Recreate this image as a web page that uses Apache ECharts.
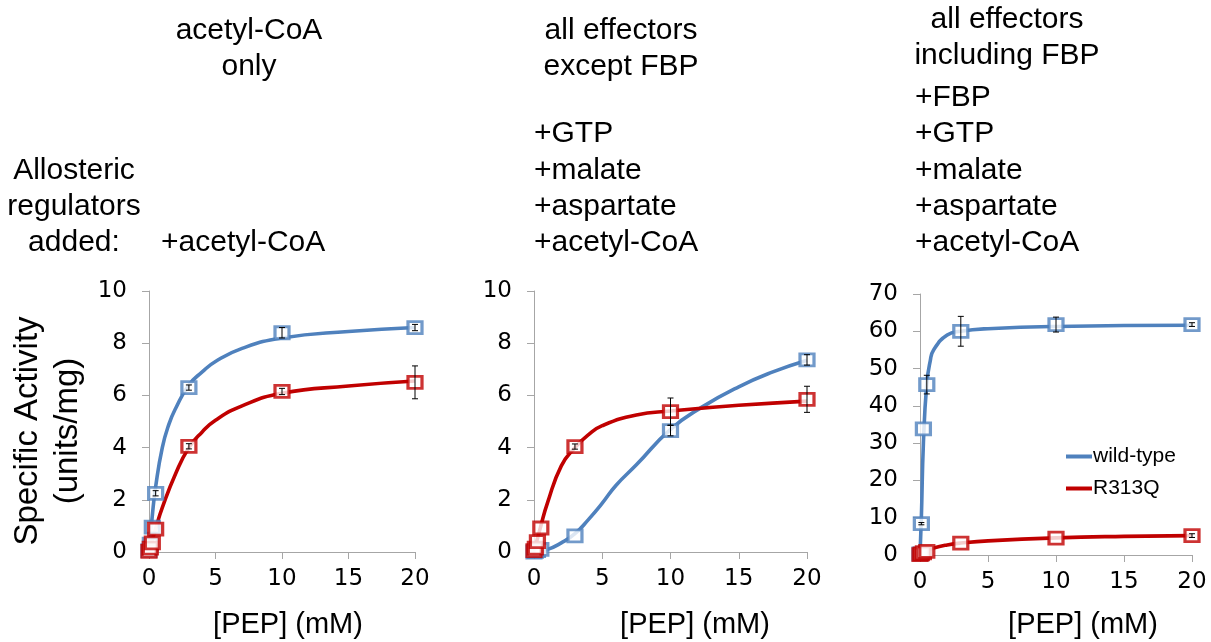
<!DOCTYPE html>
<html><head><meta charset="utf-8">
<script src="https://cdn.jsdelivr.net/npm/echarts@6/dist/echarts.min.js"></script>
<style>html,body{margin:0;padding:0;background:#fff}#c{width:1211px;height:642px}</style>
</head><body><div id="c"></div>
<script>
// ---- data ----
const seriesNames = ['wild-type', 'R313Q'];
const xAxisTitle = '[PEP] (mM)';
const yAxisTitle = ['Specific Activity', '(units/mg)'];
const panelHeaders = [['acetyl-CoA', 'only'], ['all effectors', 'except FBP'], ['all effectors', 'including FBP']];
const panelEffectors = [['+acetyl-CoA'], ['+GTP', '+malate', '+aspartate', '+acetyl-CoA'], ['+FBP', '+GTP', '+malate', '+aspartate', '+acetyl-CoA']];
const rowLabel = ['Allosteric', 'regulators', 'added:'];
const yMaxes = [10, 10, 70];
const yIntervals = [2, 2, 10];

// measured points [PEP, activity]
const wt1 = [[0, 0.05], [0.1, 0.3], [0.25, 0.95], [0.5, 2.25], [3, 6.3], [10, 8.4], [20, 8.6]];
const mut1 = [[0, 0.02], [0.1, 0.15], [0.25, 0.35], [0.5, 0.88], [3, 4.05], [10, 6.15], [20, 6.5]];
const wt2 = [[0, 0], [0.1, 0.02], [0.25, 0.05], [0.5, 0.1], [3, 0.62], [10, 4.65], [20, 7.36]];
const mut2 = [[0, 0.05], [0.1, 0.15], [0.25, 0.4], [0.5, 0.92], [3, 4.04], [10, 5.38], [20, 5.85]];
const wt3 = [[0, 0.3], [0.1, 8.4], [0.25, 33.8], [0.5, 45.7], [3, 60], [10, 61.8], [20, 61.8]];
const mut3 = [[0, 0.1], [0.1, 0.3], [0.25, 0.6], [0.5, 1.0], [3, 3.2], [10, 4.55], [20, 5.2]];

// error bars [PEP, activity, +/-]
const wtErr1 = [[0.5, 2.25, 0.1], [3, 6.3, 0.1], [10, 8.4, 0.2], [20, 8.6, 0.12]];
const mutErr1 = [[3, 4.05, 0.1], [10, 6.15, 0.12], [20, 6.5, 0.63]];
const wtErr2 = [[10, 4.65, 0.2], [20, 7.36, 0.2]];
const mutErr2 = [[3, 4.04, 0.1], [10, 5.38, 0.52], [20, 5.85, 0.5]];
const wtErr3 = [[0.1, 8.4, 0.3], [0.5, 45.7, 2.5], [3, 60, 4], [10, 61.8, 2], [20, 61.8, 0.5]];
const mutErr3 = [[20, 5.2, 0.5]];

// fitted curves
const wtFit1 = [[0, 0], [0.25, 1.4], [0.5, 2.5], [1, 4.0], [1.5, 4.9], [2, 5.5], [3, 6.4], [4, 6.9], [5, 7.3], [7, 7.8], [10, 8.2], [15, 8.45], [20, 8.6]];
const mutFit1 = [[0, 0], [0.25, 0.45], [0.5, 0.9], [1, 1.7], [2, 3.0], [3, 4.0], [4, 4.6], [5, 5.05], [7, 5.6], [10, 6.08], [15, 6.36], [20, 6.55]];
const wtFit2 = [[0, 0], [1, 0.1], [2, 0.35], [3, 0.7], [4, 1.25], [5, 1.87], [6, 2.55], [7.5, 3.34], [10, 4.7], [12.3, 5.55], [15, 6.33], [17.5, 6.9], [20, 7.35]];
const mutFit2 = [[0, 0], [0.5, 1.0], [1, 1.9], [2, 3.3], [3, 4.0], [4, 4.5], [5, 4.84], [7.5, 5.25], [10, 5.4], [15, 5.62], [20, 5.78]];
const wtFit3 = [[0, 0], [0.1, 10], [0.25, 30], [0.5, 46], [0.75, 52], [1, 55], [2, 59], [3, 60], [5, 60.7], [10, 61.3], [20, 61.6]];
const mutFit3 = [[0, 0], [0.25, 0.7], [0.5, 1.2], [1, 1.9], [2, 2.7], [3, 3.2], [5, 3.8], [10, 4.6], [15, 5.0], [20, 5.2]];

const wtPts = [wt1, wt2, wt3], mutPts = [mut1, mut2, mut3];
const wtErr = [wtErr1, wtErr2, wtErr3], mutErr = [mutErr1, mutErr2, mutErr3];
const wtFit = [wtFit1, wtFit2, wtFit3], mutFit = [mutFit1, mutFit2, mutFit3];

// ---- layout / style ----
const BLUE = '#4f81bd', RED = '#c00000';
const FONT = 'Liberation Sans, Arial, sans-serif';
const TICKFONT = 'DejaVu Sans, sans-serif';
const grids = [
  { left: 149, top: 291, width: 266, height: 261 },
  { left: 534, top: 291, width: 273, height: 261 },
  { left: 920, top: 294, width: 272, height: 261 }
];

const chart = echarts.init(document.getElementById('c'), null, { renderer: 'canvas' });

const axisCommon = {
  axisLine: { show: true, lineStyle: { color: '#a6a6a6', width: 1 } },
  axisTick: { show: true, length: 7, lineStyle: { color: '#a6a6a6' } },
  splitLine: { show: false }
};

const xAxes = grids.map((g, i) => Object.assign({}, axisCommon, {
  gridIndex: i, type: 'value', min: 0, max: 20, interval: 5,
  axisLabel: { color: '#000', fontSize: 23, fontFamily: TICKFONT, margin: 16 }
}));
const yAxes = grids.map((g, i) => Object.assign({}, axisCommon, {
  gridIndex: i, type: 'value', min: 0, max: yMaxes[i], interval: yIntervals[i],
  axisLabel: { color: '#000', fontSize: 23, fontFamily: TICKFONT, margin: 22 }
}));

function errSeries(data, i) {
  return {
    type: 'custom', xAxisIndex: i, yAxisIndex: i, z: 10, silent: true,
    data: data,
    renderItem: function (params, api) {
      const x = api.value(0), y = api.value(1), e = api.value(2);
      const top = api.coord([x, y + e]);
      const bot = api.coord([x, y - e]);
      const cw = 3;
      const st = { stroke: '#000', lineWidth: 1 };
      return {
        type: 'group',
        children: [
          { type: 'line', shape: { x1: top[0], y1: top[1], x2: bot[0], y2: bot[1] }, style: st },
          { type: 'line', shape: { x1: top[0] - cw, y1: top[1], x2: top[0] + cw, y2: top[1] }, style: st },
          { type: 'line', shape: { x1: bot[0] - cw, y1: bot[1], x2: bot[0] + cw, y2: bot[1] }, style: st }
        ]
      };
    }
  };
}

const series = [];
for (let i = 0; i < 3; i++) {
  series.push({
    name: seriesNames[0], type: 'line', xAxisIndex: i, yAxisIndex: i, data: wtFit[i],
    smooth: 0.5, showSymbol: false, symbol: 'none',
    lineStyle: { color: BLUE, width: 3.6 }, itemStyle: { color: BLUE }, z: 2
  });
  series.push({
    name: seriesNames[1], type: 'line', xAxisIndex: i, yAxisIndex: i, data: mutFit[i],
    smooth: 0.5, showSymbol: false, symbol: 'none',
    lineStyle: { color: RED, width: 3.6 }, itemStyle: { color: RED }, z: 3
  });
}
for (let i = 0; i < 3; i++) {
  series.push({
    type: 'scatter', xAxisIndex: i, yAxisIndex: i, data: wtPts[i], symbol: 'rect', symbolSize: [14, 12],
    itemStyle: { color: '#fff', borderColor: BLUE, borderWidth: 3 }, z: 4, silent: true
  });
  series.push({
    type: 'scatter', xAxisIndex: i, yAxisIndex: i, data: mutPts[i], symbol: 'rect', symbolSize: [14, 12],
    itemStyle: { color: '#fff', borderColor: RED, borderWidth: 3 }, z: 5, silent: true
  });
  series.push(errSeries(wtErr[i], i));
  series.push(errSeries(mutErr[i], i));
}

const TXT = { fill: '#000', fontFamily: FONT };
const graphics = [];
function addText(text, x, y, align, size) {
  graphics.push({ type: 'text', x: x, y: y, silent: true,
    style: Object.assign({}, TXT, { text: text, align: align, verticalAlign: 'middle', fontSize: size || 30 }) });
}
// headers
addText(panelHeaders[0][0], 249, 31, 'center'); addText(panelHeaders[0][1], 249, 67, 'center');
addText(panelHeaders[1][0], 621, 31, 'center'); addText(panelHeaders[1][1], 621, 67, 'center');
addText(panelHeaders[2][0], 1007, 20, 'center'); addText(panelHeaders[2][1], 1007, 56, 'center');
// effectors lists (bottom aligned at y=243, 36px pitch)
panelEffectors[0].forEach((t, k, a) => addText(t, 161, 243 - (a.length - 1 - k) * 36.3, 'left'));
panelEffectors[1].forEach((t, k, a) => addText(t, 534, 243 - (a.length - 1 - k) * 36.3, 'left'));
panelEffectors[2].forEach((t, k, a) => addText(t, 915, 243 - (a.length - 1 - k) * 36.3, 'left'));
rowLabel.forEach((t, k, a) => addText(t, 74, 243 - (a.length - 1 - k) * 36.3, 'center'));
// x axis titles
[288, 695, 1083].forEach(cx => addText(xAxisTitle, cx, 625, 'center', 29));
// y axis title (rotated)
graphics.push({ type: 'text', x: 28, y: 431, rotation: Math.PI / 2, silent: true,
  style: Object.assign({}, TXT, { text: yAxisTitle[0], align: 'center', verticalAlign: 'middle', fontSize: 33 }) });
graphics.push({ type: 'text', x: 68, y: 431, rotation: Math.PI / 2, silent: true,
  style: Object.assign({}, TXT, { text: yAxisTitle[1], align: 'center', verticalAlign: 'middle', fontSize: 33 }) });

chart.setOption({
  animation: false,
  backgroundColor: '#fff',
  grid: grids.map(g => Object.assign({ containLabel: false }, g)),
  xAxis: xAxes,
  yAxis: yAxes,
  legend: {
    data: [{ name: seriesNames[0], icon: 'rect' }, { name: seriesNames[1], icon: 'rect' }],
    orient: 'vertical', left: 1061, top: 441, itemWidth: 26, itemHeight: 4, itemGap: 11,
    textStyle: { color: '#000', fontSize: 21, fontFamily: FONT, padding: [0, 0, 0, -4] },
    selectedMode: false
  },
  graphic: graphics,
  series: series
});
</script></body></html>
